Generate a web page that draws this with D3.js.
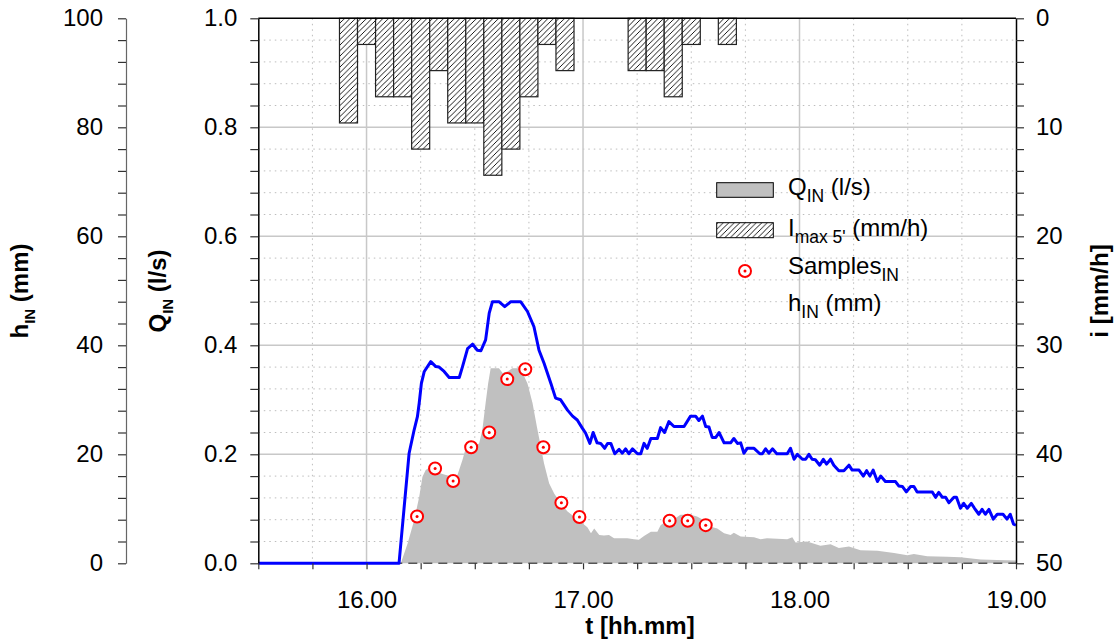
<!DOCTYPE html>
<html><head><meta charset="utf-8">
<script src="https://cdn.jsdelivr.net/npm/d3@7"></script>
<style>
body{margin:0;background:#fff}
svg{display:block;font-family:"Liberation Sans",Arial,sans-serif}
</style>
</head><body>
<svg id="chart" width="1118" height="643"></svg>
<script>
// ---- data (time in minutes after 16:00) ----
const qTime = [-30, 9.5, 11.4, 13.2, 14.6, 15.5, 16.4, 17.8, 19.2, 20.6, 22.0, 23.8, 25.2, 26.6, 27.5, 28.9, 30.3, 31.2, 32.1, 33.0, 33.7, 34.4, 36.7, 37.7, 39.1, 40.4, 42.7, 44.6, 46.0, 47.2, 48.3, 49.2, 50.6, 52.0, 53.8, 55.7, 57.5, 59.4, 61.2, 62.2, 63.1, 64.5, 65.8, 67.2, 68.6, 70.4, 72.3, 74.1, 75.5, 76.9, 78.8, 80.6, 81.5, 83.4, 85.7, 87.0, 89.8, 91.6, 93.5, 95.4, 97.2, 99.1, 100.9, 101.8, 103.7, 107.4, 109.2, 111.0, 116.6, 118.0, 118.9, 122.1, 125.8, 128.6, 130.9, 133.7, 136.9, 141.6, 146.2, 149.9, 151.7, 155.4, 160.9, 164.6, 170.2, 174.8, 180];
const qValue = [0, 0, 0.037, 0.079, 0.122, 0.159, 0.171, 0.177, 0.171, 0.165, 0.162, 0.159, 0.162, 0.190, 0.211, 0.217, 0.217, 0.220, 0.245, 0.294, 0.330, 0.358, 0.358, 0.349, 0.352, 0.358, 0.358, 0.330, 0.294, 0.251, 0.214, 0.183, 0.147, 0.128, 0.110, 0.095, 0.086, 0.076, 0.066, 0.055, 0.064, 0.052, 0.051, 0.052, 0.046, 0.046, 0.046, 0.044, 0.043, 0.050, 0.058, 0.058, 0.070, 0.079, 0.083, 0.089, 0.089, 0.086, 0.079, 0.067, 0.064, 0.055, 0.052, 0.056, 0.049, 0.048, 0.044, 0.046, 0.044, 0.048, 0.038, 0.040, 0.032, 0.035, 0.028, 0.031, 0.024, 0.023, 0.019, 0.015, 0.017, 0.013, 0.012, 0.011, 0.007, 0.006, 0.005];

const hTime = [-30, 9.0, 11.8, 13.2, 14.1, 14.6, 15.2, 16.0, 17.8, 19.2, 20.1, 21.5, 22.9, 25.7, 26.6, 28.0, 29.4, 30.7, 31.7, 33.0, 34.0, 34.9, 36.7, 38.3, 40.0, 42.7, 44.6, 46.4, 47.8, 49.2, 51.1, 52.4, 53.8, 55.7, 57.1, 58.4, 59.8, 60.7, 61.9, 62.8, 63.9, 64.9, 66.0, 66.8, 67.7, 68.8, 70.0, 70.9, 71.8, 72.7, 73.7, 75.1, 76.0, 76.9, 77.8, 78.8, 80.6, 81.5, 82.6, 83.8, 85.2, 88.0, 89.8, 91.2, 92.1, 93.1, 94.0, 94.9, 95.8, 96.8, 97.7, 99.1, 100.9, 101.8, 102.8, 103.7, 104.6, 105.5, 107.4, 109.0, 109.7, 110.6, 111.5, 112.5, 113.7, 116.6, 117.5, 118.5, 119.4, 120.8, 121.7, 122.6, 123.5, 124.4, 125.6, 126.6, 127.5, 128.6, 129.5, 130.9, 132.3, 133.7, 134.6, 136.5, 137.7, 138.6, 139.5, 140.4, 141.6, 142.5, 143.8, 146.6, 147.5, 148.5, 149.6, 150.8, 151.7, 152.6, 156.8, 157.7, 158.6, 159.6, 160.5, 161.4, 162.8, 163.5, 164.6, 165.5, 166.5, 167.6, 168.5, 169.7, 170.6, 171.5, 172.5, 173.7, 174.8, 176.4, 177.5, 178.4, 179.3, 180];
const hValue = [0, 0, 20.2, 24.5, 26.9, 29.4, 33.0, 35.2, 37.0, 36.1, 36.0, 35.2, 34.1, 34.1, 36.1, 39.4, 40.2, 39.1, 39.0, 41.0, 45.9, 48.0, 48.0, 47.1, 48.0, 48.0, 46.2, 43.4, 39.1, 36.7, 33.0, 30.3, 30.0, 28.1, 27.0, 26.3, 24.8, 23.9, 22.0, 24.0, 22.1, 22.0, 21.1, 22.0, 22.0, 20.1, 20.9, 20.2, 21.0, 20.1, 21.0, 20.1, 20.1, 22.0, 21.1, 22.9, 22.9, 24.9, 24.0, 26.0, 25.1, 25.1, 27.0, 27.0, 26.2, 27.0, 25.1, 25.0, 23.1, 23.1, 24.0, 22.1, 22.1, 22.9, 22.0, 22.1, 20.2, 21.1, 21.1, 20.1, 20.1, 21.0, 20.2, 21.0, 20.1, 20.1, 21.1, 19.1, 20.0, 19.1, 19.1, 20.0, 19.1, 19.0, 18.0, 19.1, 18.2, 19.1, 18.0, 17.0, 17.0, 18.0, 17.1, 17.1, 16.0, 17.0, 16.0, 17.1, 15.0, 16.0, 15.0, 15.0, 14.2, 14.1, 13.1, 14.1, 14.1, 13.1, 13.1, 12.1, 13.0, 12.1, 12.1, 11.1, 12.1, 12.1, 10.1, 11.0, 10.1, 11.0, 10.1, 9.0, 9.9, 9.0, 9.9, 8.1, 9.0, 9.0, 8.1, 9.0, 7.2, 7.0];

// 5-minute rainfall intensity bars (bar centre time, mm/h)
const rainTime  = [-5, 0, 5, 10, 15, 20, 25, 30, 35, 40, 45, 50, 55, 75, 80, 85, 90, 100];
const rainValue = [9.6, 2.4, 7.2, 7.2, 12.0, 4.8, 9.6, 9.6, 14.4, 12.0, 7.2, 2.4, 4.8, 4.8, 4.8, 7.2, 2.4, 2.4];

// samples
const sampleTime  = [14, 19, 24, 29, 34, 39, 44, 49, 54, 59, 84, 89, 94];
const sampleValue = [0.086, 0.174, 0.151, 0.213, 0.240, 0.338, 0.356, 0.213, 0.111, 0.085, 0.078, 0.078, 0.070];

// axis tick values
const xTicks = d3.range(-30, 181, 15);
const qTicks = d3.range(0, 26).map(i => i * 0.04);
const hTicks = d3.range(0, 26).map(i => i * 4);
const iTicks = d3.range(0, 26).map(i => i * 2);

// ---- layout ----
const L = 258.3, R = 1016, T = 18.3, B = 563.3;
const svg = d3.select("#chart");
const x  = d3.scaleLinear().domain([-30, 180]).range([L, R]);
const yQ = d3.scaleLinear().domain([0, 1]).range([B, T]);
const yH = d3.scaleLinear().domain([0, 100]).range([B, T]);
const yI = d3.scaleLinear().domain([0, 50]).range([T, B]);

const defs = svg.append("defs");
const pat = defs.append("pattern").attr("id", "hatch").attr("patternUnits", "userSpaceOnUse")
  .attr("width", 5.5).attr("height", 5.5);
pat.append("rect").attr("width", 5.5).attr("height", 5.5).attr("fill", "#fff");
pat.append("path").attr("d", "M-1,1 l2,-2 M0,5.5 l5.5,-5.5 M4.5,6.5 l2,-2")
  .attr("stroke", "#000").attr("stroke-width", 0.9);

// ---- grid ----
const grid = svg.append("g");
const isMajorQ = d => Math.abs(d * 5 - Math.round(d * 5)) < 1e-6;
grid.selectAll(".hmin").data(qTicks.filter(d => !isMajorQ(d))).join("line")
  .attr("x1", L).attr("x2", R).attr("y1", d => yQ(d)).attr("y2", d => yQ(d))
  .attr("stroke", "#bdbdbd").attr("stroke-width", 1).attr("stroke-dasharray", "1.5,4");
grid.selectAll(".vmin").data(xTicks.filter(d => d % 60 !== 0 && d > -30 && d < 180)).join("line")
  .attr("y1", T).attr("y2", B).attr("x1", d => x(d)).attr("x2", d => x(d))
  .attr("stroke", "#bdbdbd").attr("stroke-width", 1).attr("stroke-dasharray", "1.5,4");
grid.selectAll(".hmaj").data(qTicks.filter(d => isMajorQ(d) && d > 0 && d < 1)).join("line")
  .attr("x1", L).attr("x2", R).attr("y1", d => yQ(d)).attr("y2", d => yQ(d))
  .attr("stroke", "#c8c8c8").attr("stroke-width", 1.5);
grid.selectAll(".vmaj").data(xTicks.filter(d => d % 60 === 0 && d > -30 && d < 180)).join("line")
  .attr("y1", T).attr("y2", B).attr("x1", d => x(d)).attr("x2", d => x(d))
  .attr("stroke", "#c8c8c8").attr("stroke-width", 1.5);

// ---- Q area ----
const qData = qTime.map((t, i) => ({ t, v: qValue[i] }));
svg.append("path").datum(qData)
  .attr("d", d3.area().x(d => x(d.t)).y0(B).y1(d => yQ(d.v)))
  .attr("fill", "#c0c0c0");

// ---- rain bars ----
svg.append("g").selectAll("rect").data(rainTime.map((t, i) => ({ t, v: rainValue[i] }))).join("rect")
  .attr("x", d => x(d.t - 2.5)).attr("width", d => x(d.t + 2.5) - x(d.t - 2.5))
  .attr("y", yI(0)).attr("height", d => yI(d.v) - yI(0))
  .attr("fill", "url(#hatch)").attr("stroke", "#222").attr("stroke-width", 1.2);

// ---- bottom dashed baseline ----
svg.append("line").attr("x1", L).attr("x2", R).attr("y1", B).attr("y2", B)
  .attr("stroke", "#555").attr("stroke-width", 1.5).attr("stroke-dasharray", "9,6");

// ---- h line ----
const hData = hTime.map((t, i) => ({ t, v: hValue[i] }));
svg.append("path").datum(hData)
  .attr("d", d3.line().x(d => x(d.t)).y(d => yH(d.v)))
  .attr("fill", "none").attr("stroke", "#0000ff").attr("stroke-width", 3)
  .attr("stroke-linejoin", "round");

// ---- samples ----
const sg = svg.append("g").selectAll("g").data(sampleTime.map((t, i) => ({ t, v: sampleValue[i] }))).join("g")
  .attr("transform", d => `translate(${x(d.t)},${yQ(d.v)})`);
sg.append("circle").attr("r", 6).attr("fill", "#fff").attr("stroke", "#ff0000").attr("stroke-width", 2);
sg.append("circle").attr("r", 1.5).attr("fill", "#ff0000");

// ---- axes ----
const fs = "24px";
function styleAxis(g, lineColor) {
  g.selectAll("text").attr("font-size", fs).attr("fill", "#000").attr("font-family", '"Liberation Sans",Arial,sans-serif');
  g.select(".domain").attr("stroke", lineColor).attr("stroke-width", 1.5);
  g.selectAll(".tick line").attr("stroke", "#333").attr("stroke-width", 1.2);
}
// Q axis
const gQ = svg.append("g").attr("transform", `translate(${L},0)`)
  .call(d3.axisLeft(yQ).tickValues(qTicks).tickSize(8).tickSizeOuter(0).tickPadding(13)
    .tickFormat(d => isMajorQ(d) ? d3.format(".1f")(d) : ""));
styleAxis(gQ, "#000");
// h axis
const gH = svg.append("g").attr("transform", `translate(126,0)`)
  .call(d3.axisLeft(yH).tickValues(hTicks).tickSize(8).tickSizeOuter(0).tickPadding(15)
    .tickFormat(d => d % 20 === 0 ? d : ""));
styleAxis(gH, "#666");
gH.select(".domain").attr("stroke-width", 1.2);
// i axis (right)
const gI = svg.append("g").attr("transform", `translate(${R},0)`)
  .call(d3.axisRight(yI).tickValues(iTicks).tickSize(8).tickSizeOuter(0).tickPadding(12)
    .tickFormat(d => d % 10 === 0 ? d : ""));
styleAxis(gI, "#000");
// x axis (bottom)
const gX = svg.append("g").attr("transform", `translate(0,${B})`)
  .call(d3.axisBottom(x).tickValues(xTicks).tickSize(6).tickSizeOuter(0).tickPadding(22)
    .tickFormat(d => (d % 60 === 0 && d >= 0) ? `${16 + d / 60}.00` : ""));
styleAxis(gX, "none");
gX.select(".domain").remove();
// top border
svg.append("line").attr("x1", L).attr("x2", R).attr("y1", T).attr("y2", T)
  .attr("stroke", "#000").attr("stroke-width", 1.5);

// ---- axis titles ----
function rotTitle(cx, cy, main, sub, rest) {
  const t = svg.append("text").attr("transform", `translate(${cx},${cy}) rotate(-90)`)
    .attr("text-anchor", "middle").attr("font-weight", "bold").attr("font-size", "24px");
  t.append("tspan").text(main);
  if (sub) t.append("tspan").attr("font-size", "15px").attr("dy", 7).text(sub);
  t.append("tspan").attr("dy", sub ? -7 : 0).text(rest);
}
rotTitle(28, 291, "h", "IN", " (mm)");
rotTitle(166, 291, "Q", "IN", " (l/s)");
rotTitle(1108, 291, "i [mm/h]", null, "");
svg.append("text").attr("x", 640).attr("y", 634).attr("text-anchor", "middle")
  .attr("font-weight", "bold").attr("font-size", "24px").text("t [hh.mm]");

// ---- legend ----
const lg = svg.append("g");
lg.append("rect").attr("x", 716.7).attr("y", 182.7).attr("width", 56.6).attr("height", 14.6)
  .attr("fill", "#c0c0c0").attr("stroke", "#000").attr("stroke-width", 1);
lg.append("rect").attr("x", 716.7).attr("y", 222.7).attr("width", 56.6).attr("height", 15)
  .attr("fill", "url(#hatch)").attr("stroke", "#000").attr("stroke-width", 1);
lg.append("circle").attr("cx", 745).attr("cy", 271).attr("r", 6).attr("fill", "#fff")
  .attr("stroke", "#ff0000").attr("stroke-width", 2);
lg.append("circle").attr("cx", 745).attr("cy", 271).attr("r", 1.5).attr("fill", "#ff0000");
function legText(y, main, sub, rest) {
  const t = lg.append("text").attr("x", 788).attr("y", y).attr("font-size", "24px");
  t.append("tspan").text(main);
  if (sub) t.append("tspan").attr("font-size", "17.5px").attr("dy", 7).text(sub);
  if (rest) t.append("tspan").attr("dy", -7).text(rest);
}
legText(195, "Q", "IN", " (l/s)");
legText(236, "I", "max 5'", " (mm/h)");
legText(274, "Samples", "IN", null);
legText(311, "h", "IN", " (mm)");
</script>
</body></html>
